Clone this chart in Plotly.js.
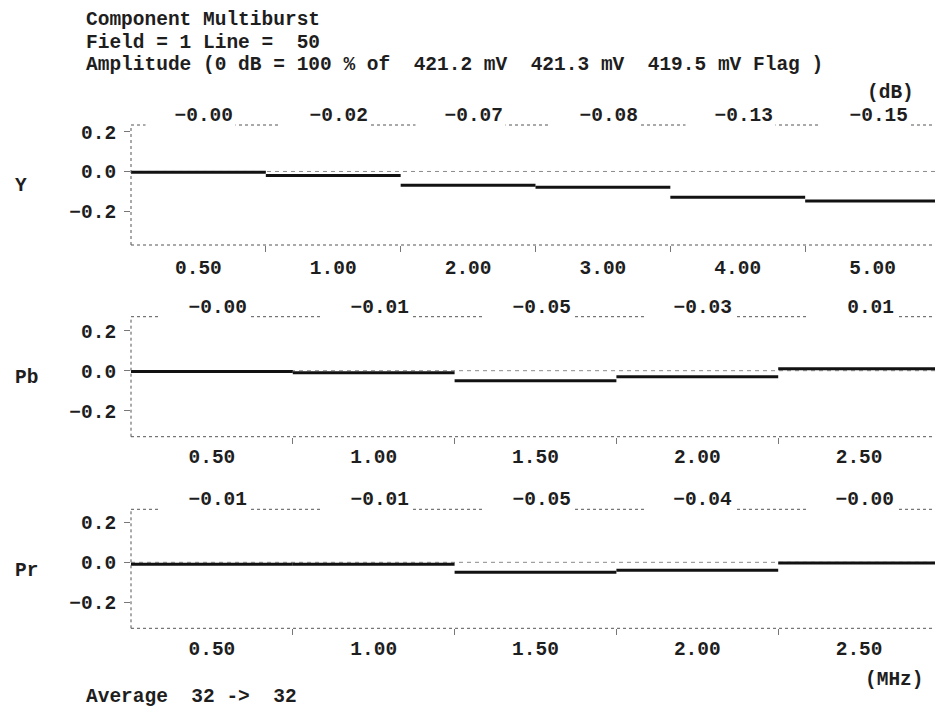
<!DOCTYPE html>
<html>
<head>
<meta charset="utf-8">
<script src="https://cdn.plot.ly/plotly-3.0.1.min.js"></script>
<style>
  html, body { margin: 0; padding: 0; background: #fff; }
  #chart { width: 935px; height: 710px; }
</style>
</head>
<body>
<div id="chart"></div>
<script>
// ---------------- data ----------------
const titleLines = [
  "Component Multiburst",
  "Field = 1 Line =  50",
  "Amplitude (0 dB = 100 % of  421.2 mV  421.3 mV  419.5 mV Flag )"
];
const channelNames = ["Y", "Pb", "Pr"];

const yFreqLabels  = ["0.50", "1.00", "2.00", "3.00", "4.00", "5.00"];
const pbFreqLabels = ["0.50", "1.00", "1.50", "2.00", "2.50"];
const prFreqLabels = ["0.50", "1.00", "1.50", "2.00", "2.50"];

// packet amplitudes in dB
const yValues  = [-0.004, -0.02, -0.07, -0.08, -0.13, -0.15];
const pbValues = [-0.004, -0.01, -0.05, -0.03, 0.01];
const prValues = [-0.01, -0.01, -0.05, -0.04, -0.004];

const yAxisTicks = [-0.2, 0, 0.2];
const yAxisTickText = ["\u22120.2", "0.0", "0.2"];

const footerText = "Average  32 ->  32";
const unitY = "(dB)";
const unitX = "(MHz)";

// ---------------- layout helpers ----------------
const W = 935, H = 710;
const FONT = "Liberation Mono, Courier New, monospace";
const TXT = {family: FONT, size: 19.5, color: "#1e1e1e", weight: "bold"};
const nb = s => s.replace(/ /g, "\u00a0");
const px = v => 1 - v / H;

const plotLeft = 131, plotRightFull = 940;
const panels = [
  {values: yValues,  labels: yFreqLabels,  name: channelNames[0], top: 125,   bottom: 245,   range: [-0.372, 0.235], nameY: 186},
  {values: pbValues, labels: pbFreqLabels, name: channelNames[1], top: 316.7, bottom: 436.7, range: [-0.33, 0.27],  nameY: 378},
  {values: prValues, labels: prFreqLabels, name: channelNames[2], top: 509.3, bottom: 628.3, range: [-0.33, 0.265], nameY: 571}
];

const traces = [];
const layout = {
  width: W, height: H,
  margin: {l: 0, r: 0, t: 0, b: 0, pad: 0},
  paper_bgcolor: "#fff", plot_bgcolor: "#fff",
  showlegend: false,
  font: TXT,
  annotations: [],
  shapes: []
};

panels.forEach((p, k) => {
  const n = p.values.length;
  const sx = k === 0 ? "" : String(k + 1);
  const xa = "x" + sx, ya = "y" + sx;
  const segW = (plotRightFull - plotLeft) / n;
  const xmax = (W - plotLeft) / segW;

  // step segments (no vertical risers)
  const xs = [], ys = [];
  p.values.forEach((v, i) => { xs.push(i, i + 1, null); ys.push(v, v, null); });
  traces.push({
    x: xs, y: ys, xaxis: xa, yaxis: ya, type: "scatter", mode: "lines",
    line: {color: "#121212", width: 3}, connectgaps: false, hoverinfo: "skip"
  });

  const centers = p.values.map((_, i) => i + 0.5);
  const bounds = p.values.slice(1).map((_, i) => i + 1);

  layout["xaxis" + sx] = {
    domain: [plotLeft / W, 1], range: [0, xmax], anchor: ya,
    showline: false, showgrid: false, zeroline: false, fixedrange: true,
    tickmode: "array", tickvals: centers, ticktext: p.labels,
    ticks: "", ticklabelstandoff: k === 0 ? 8 : 6,
    tickfont: TXT,
    minor: {tickmode: "array", tickvals: bounds, ticks: "outside", ticklen: 6, tickwidth: 1, tickcolor: "#777", showgrid: false},
    automargin: false
  };
  layout["yaxis" + sx] = {
    domain: [px(p.bottom), px(p.top)], range: p.range, anchor: xa,
    showline: false, showgrid: false, zeroline: false, fixedrange: true,
    tickmode: "array", tickvals: yAxisTicks, ticktext: yAxisTickText,
    ticks: "outside", ticklen: 6, tickwidth: 1, tickcolor: "#777",
    ticklabelstandoff: 4, tickfont: TXT, automargin: false
  };

  // frame: left, bottom, top (dotted)
  const frame = {type: "line", xref: xa + " domain", yref: ya + " domain", line: {color: "#555", width: 1, dash: "dot"}, layer: "above"};
  layout.shapes.push(Object.assign({}, frame, {x0: 0, x1: 0, y0: 0, y1: 1}));
  layout.shapes.push(Object.assign({}, frame, {x0: 0, x1: 1, y0: 0, y1: 0}));
  layout.shapes.push(Object.assign({}, frame, {x0: 0, x1: 1, y0: 1, y1: 1}));
  // dashed 0 dB reference
  layout.shapes.push({type: "line", xref: xa + " domain", yref: ya, x0: 0, x1: 1, y0: 0, y1: 0,
    line: {color: "#8a8a8a", width: 1, dash: "4px,4px"}, layer: "below"});

  // dB readouts above each packet, breaking the top frame line
  p.values.forEach((v, i) => {
    layout.annotations.push({
      xref: xa, yref: ya + " domain", x: i + 0.5, y: 1,
      xanchor: "center", yanchor: "bottom", xshift: -7.5, yshift: -5,
      width: 85, align: "right", bgcolor: "#fff", borderpad: 2,
      text: v.toFixed(2).replace("-", "\u2212"), showarrow: false, font: TXT
    });
  });

  // channel name
  layout.annotations.push({
    xref: "paper", yref: "paper", x: 13 / W, y: px(p.nameY), xanchor: "left", yanchor: "middle",
    text: p.name, showarrow: false, font: TXT
  });
});

// title block
[20.5, 42.5, 64.5].forEach((yy, i) => {
  layout.annotations.push({
    xref: "paper", yref: "paper", x: 84 / W, y: px(yy), xanchor: "left", yanchor: "middle",
    text: nb(titleLines[i]), showarrow: false, font: TXT
  });
});
layout.annotations.push({xref: "paper", yref: "paper", x: 916 / W, y: px(93), xanchor: "right", yanchor: "middle",
  text: unitY, showarrow: false, font: TXT});
layout.annotations.push({xref: "paper", yref: "paper", x: 926 / W, y: px(680), xanchor: "right", yanchor: "middle",
  text: unitX, showarrow: false, font: TXT});
layout.annotations.push({xref: "paper", yref: "paper", x: 84 / W, y: px(697), xanchor: "left", yanchor: "middle",
  text: nb(footerText), showarrow: false, font: TXT});

Plotly.newPlot("chart", traces, layout, {staticPlot: true, displayModeBar: false});
</script>
</body>
</html>
